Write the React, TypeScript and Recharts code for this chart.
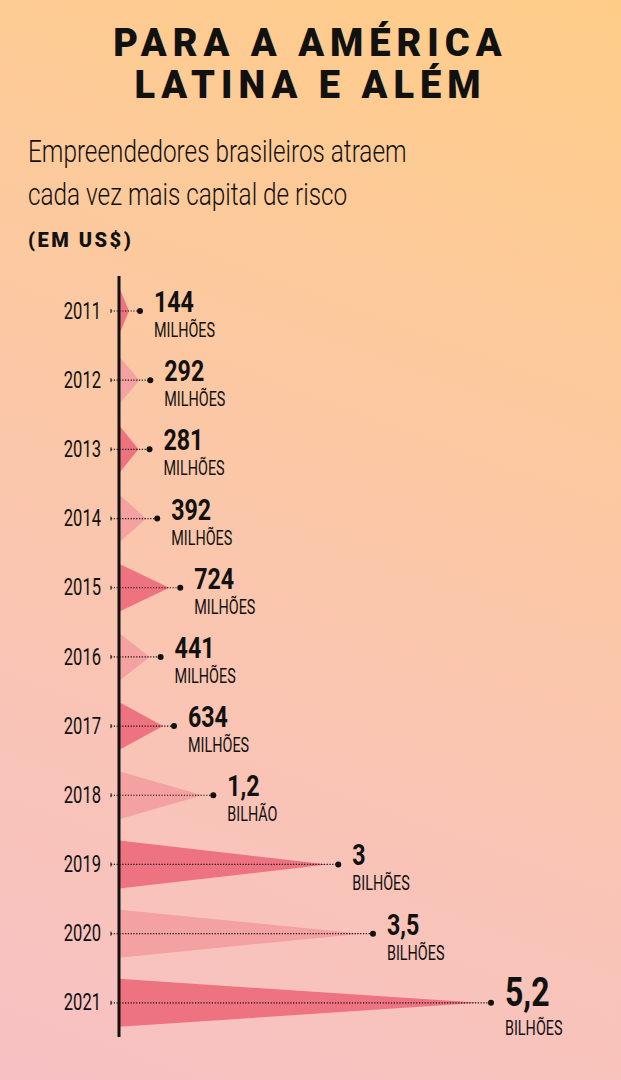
import { Bar, BarChart, Cell, XAxis, YAxis } from "recharts";

const years = ["2011", "2012", "2013", "2014", "2015", "2016", "2017", "2018", "2019", "2020", "2021"];
// valores em milhões de US$
const values = [144, 292, 281, 392, 724, 441, 634, 1200, 3000, 3500, 5200];
const valueLabels = ["144", "292", "281", "392", "724", "441", "634", "1,2", "3", "3,5", "5,2"];
const unitLabels = [
  "MILHÕES", "MILHÕES", "MILHÕES", "MILHÕES", "MILHÕES", "MILHÕES", "MILHÕES",
  "BILHÃO", "BILHÕES", "BILHÕES", "BILHÕES",
];

const data = years.map((year, i) => ({
  year,
  value: values[i],
  label: valueLabels[i],
  unit: unitLabels[i],
}));

const DARK = "#ee7381";
const LIGHT = "#f4a1a1";
const INK = "#111111";
const FONT = "Roboto, 'Liberation Sans', sans-serif";

function YearTick(props: any) {
  const { x, y, payload } = props;
  return (
    <g transform={`translate(${x - 10},${y + 8}) scale(0.72,1)`}>
      <text x={0} y={0} textAnchor="end" fontFamily={FONT} fontSize={23} fill={INK}>
        {payload.value}
      </text>
    </g>
  );
}

function Spike(props: any) {
  const { x, y, width, height, payload, index, fill } = props;
  const cy = y + height / 2;
  const tipX = x + width;
  const dotX = tipX + 11;
  const big = index === data.length - 1;
  const textX = dotX + 14;
  return (
    <g>
      <polygon points={`${x},${y} ${tipX},${cy} ${x},${y + height}`} fill={fill} />
      <line x1={x - 8} y1={cy - 2} x2={x - 8} y2={cy + 2} stroke={INK} strokeWidth={1} />
      <line
        x1={x - 8}
        y1={cy}
        x2={dotX}
        y2={cy}
        stroke={INK}
        strokeWidth={1.2}
        strokeDasharray="1.2 1.6"
      />
      <circle cx={dotX} cy={cy} r={3} fill={INK} />
      <g transform={`translate(${textX},${cy + (big ? 3 : 1)}) scale(0.8,1)`}>
        <text x={0} y={0} fontFamily={FONT} fontWeight={700} fontSize={big ? 40 : 29} fill={INK}>
          {payload.label}
        </text>
      </g>
      <g transform={`translate(${textX},${cy + (big ? 32 : 26)}) scale(0.72,1)`}>
        <text x={0} y={0} fontFamily={FONT} fontSize={20} fill={INK}>
          {payload.unit}
        </text>
      </g>
    </g>
  );
}

export default function App() {
  return (
    <div
      style={{
        position: "absolute",
        left: 0,
        top: 0,
        width: 621,
        height: 1080,
        overflow: "hidden",
        background: "linear-gradient(200deg, #ffcd88 0%, #fcc9a0 35%, #f9c4b6 70%, #f7c1c4 100%)",
        fontFamily: FONT,
        color: INK,
      }}
    >
      <div
        style={{
          position: "absolute",
          top: 22,
          left: 0,
          width: 621,
          textAlign: "center",
          fontWeight: 900,
          fontSize: 38,
          lineHeight: "42px",
          letterSpacing: 6,
        }}
      >
        PARA A AMÉRICA
        <br />
        LATINA E ALÉM
      </div>
      <div
        style={{
          position: "absolute",
          top: 130,
          left: 28,
          fontWeight: 300,
          fontSize: 32,
          lineHeight: "43px",
          whiteSpace: "nowrap",
          transform: "scaleX(0.76)",
          transformOrigin: "left top",
        }}
      >
        Empreendedores brasileiros atraem
        <br />
        cada vez mais capital de risco
      </div>
      <div
        style={{
          position: "absolute",
          top: 228,
          left: 28,
          fontWeight: 900,
          fontSize: 20,
          letterSpacing: 2.5,
          whiteSpace: "nowrap",
        }}
      >
        (EM US$)
      </div>
      <div style={{ position: "absolute", top: 276, left: 0 }}>
        <BarChart
          width={621}
          height={800}
          data={data}
          layout="vertical"
          margin={{ top: 0, right: 141, bottom: 39, left: 0 }}
          barCategoryGap={0}
        >
          <XAxis type="number" domain={[0, 5200]} hide />
          <YAxis
            type="category"
            dataKey="year"
            width={119}
            axisLine={{ stroke: INK, strokeWidth: 3 }}
            tickLine={false}
            tick={YearTick}
          />
          <Bar dataKey="value" barSize={48} shape={Spike} isAnimationActive={false}>
            {data.map((d, i) => (
              <Cell key={d.year} fill={i % 2 === 0 ? DARK : LIGHT} />
            ))}
          </Bar>
        </BarChart>
      </div>
    </div>
  );
}
